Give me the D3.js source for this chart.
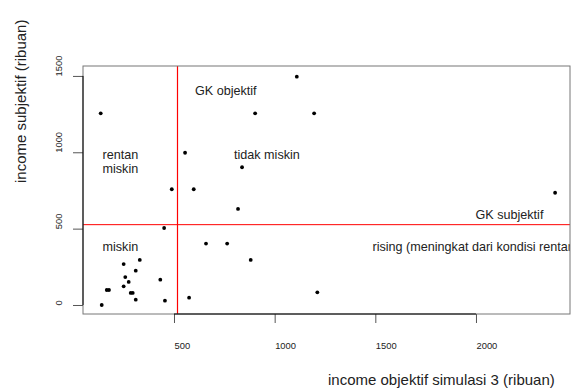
<!DOCTYPE html>
<html>
<head>
<meta charset="utf-8">
<script src="https://cdn.jsdelivr.net/npm/d3@7"></script>
<style>
  body { margin: 0; background: #fff; }
  svg { display: block; font-family: "Liberation Sans", Arial, sans-serif; }
</style>
</head>
<body>
<div id="chart"></div>
<script>
// income objektif (simulasi 3) vs income subjektif, ribuan
var objektif = [1110, 136, 903, 1196, 555, 838, 489, 598, 818, 2393,
                1212, 451, 659, 764, 881, 575, 141, 250, 330, 310,
                258, 275, 250, 432, 166, 177, 285, 295, 310, 455];
var subjektif = [1495, 1255, 1255, 1255, 997, 902, 758, 758, 629, 735,
                 83, 504, 402, 402, 295, 48, 0, 268, 295, 225,
                 183, 151, 122, 166, 98, 98, 79, 79, 35, 28];
var xTicks = [500, 1000, 1500, 2000];
var yTicks = [0, 500, 1000, 1500];
var gkObjektif = 518;
var gkSubjektif = 526;

var width = 573, height = 390;
var pLeft = 83, pRight = 570, pTop = 66, pBottom = 314;

var svg = d3.select("#chart").append("svg")
    .attr("width", width)
    .attr("height", height);

var xScale = d3.scaleLinear().domain([48, 2467]).range([pLeft, pRight]);
var yScale = d3.scaleLinear().domain([-59, 1565]).range([pBottom, pTop]);

svg.append("clipPath").attr("id", "plotclip")
  .append("rect")
    .attr("x", pLeft).attr("y", pTop)
    .attr("width", pRight - pLeft).attr("height", pBottom - pTop);

var plot = svg.append("g").attr("clip-path", "url(#plotclip)");

// reference lines (GK objektif / GK subjektif)
var gx0 = Math.floor(xScale(gkObjektif)) + 0.5;
plot.append("line")
    .attr("x1", gx0).attr("x2", gx0)
    .attr("y1", pTop).attr("y2", pBottom)
    .attr("stroke", "#ff0000").attr("stroke-width", 1.2);
plot.append("line")
    .attr("x1", pLeft).attr("x2", pRight)
    .attr("y1", yScale(gkSubjektif)).attr("y2", yScale(gkSubjektif))
    .attr("stroke", "#ff0000").attr("stroke-width", 1);

// points
plot.selectAll("circle")
    .data(objektif)
    .enter().append("circle")
    .attr("cx", function(d) { return xScale(d); })
    .attr("cy", function(d, i) { return yScale(subjektif[i]); })
    .attr("r", 1.9)
    .attr("fill", "#000");

// labels in the plot
var labels = [
  {t: "GK objektif", x: 195, y: 95},
  {t: "rentan", x: 102.5, y: 158.5},
  {t: "miskin", x: 102.5, y: 172.5},
  {t: "tidak miskin", x: 234, y: 158.5},
  {t: "GK subjektif", x: 475.5, y: 218.5},
  {t: "miskin", x: 102.5, y: 250.5},
  {t: "rising (meningkat dari kondisi rentan)", x: 372.5, y: 251}
];
plot.selectAll("text.lbl")
    .data(labels)
    .enter().append("text")
    .attr("class", "lbl")
    .attr("x", function(d) { return d.x; })
    .attr("y", function(d) { return d.y; })
    .attr("font-size", "12.6px")
    .attr("fill", "#222")
    .text(function(d) { return d.t; });

// box
svg.append("rect")
    .attr("x", pLeft).attr("y", pTop)
    .attr("width", pRight - pLeft).attr("height", pBottom - pTop)
    .attr("fill", "none").attr("stroke", "#777");

// x axis
var xAxis = d3.axisBottom(xScale).tickValues(xTicks).tickSize(9).tickFormat(d3.format("d"));
var gx = svg.append("g")
    .attr("transform", "translate(0," + pBottom + ")")
    .call(xAxis);
gx.select(".domain").remove();
gx.selectAll(".tick line").attr("stroke", "#555");
gx.selectAll(".tick text")
    .attr("y", 35).attr("dy", 0).attr("x", 0)
    .attr("text-anchor", "start")
    .attr("font-size", "9.4px")
    .attr("font-family", "Liberation Sans, Arial, sans-serif")
    .attr("fill", "#222");
svg.append("line")
    .attr("x1", xScale(xTicks[0])).attr("x2", xScale(xTicks[xTicks.length - 1]))
    .attr("y1", pBottom).attr("y2", pBottom)
    .attr("stroke", "#000");

// y axis
var yAxis = d3.axisLeft(yScale).tickValues(yTicks).tickSize(10).tickFormat(d3.format("d"));
var gy = svg.append("g")
    .attr("transform", "translate(" + pLeft + ",0)")
    .call(yAxis);
gy.select(".domain").remove();
gy.selectAll(".tick line").attr("stroke", "#555");
gy.selectAll(".tick text")
    .attr("x", 0).attr("dy", 0)
    .attr("transform", "translate(-21,0) rotate(-90)")
    .attr("text-anchor", "start")
    .attr("font-size", "9.4px")
    .attr("font-family", "Liberation Sans, Arial, sans-serif")
    .attr("fill", "#222");
svg.append("line")
    .attr("x1", pLeft).attr("x2", pLeft)
    .attr("y1", yScale(yTicks[0])).attr("y2", yScale(yTicks[yTicks.length - 1]))
    .attr("stroke", "#000");

// axis titles
svg.append("text")
    .attr("x", 328).attr("y", 385)
    .attr("font-size", "15px")
    .attr("fill", "#222")
    .text("income objektif simulasi 3 (ribuan)");
svg.append("text")
    .attr("transform", "translate(26,183) rotate(-90)")
    .attr("font-size", "15px")
    .attr("fill", "#222")
    .text("income subjektif (ribuan)");
</script>
</body>
</html>
